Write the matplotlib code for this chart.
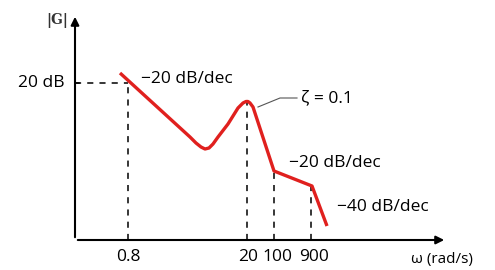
import matplotlib.pyplot as plt

# schematic Bode magnitude sketch (axis units are arbitrary, not log-scaled)
curve_x = [45, 115, 121, 126, 130, 134, 138, 143, 153, 163, 168, 171, 173, 175, 178, 199, 237, 252]
curve_y = [167, 103, 97, 93, 91, 92, 96, 103, 116, 132, 137, 138.5, 138.5, 137, 133, 69, 54, 14]

tick_pos = [53, 172, 199, 236]
tick_labels = ["0.8", "20", "100", "900"]
label_pos = [53, 173, 202, 239]
tick_top = [157, 138, 69, 54]   # where each dashed guide meets the curve

level_20db = 157

plt.rcParams['font.family'] = ['Open Sans', 'DejaVu Sans']

fig = plt.figure(figsize=(4.95, 2.7), dpi=100)
ax = fig.add_axes([75/495, 30/270, 370/495, 225/270])
ax.set_xlim(0, 370)
ax.set_ylim(0, 225)
ax.axis("off")

# axes with arrows
ax.annotate("", xy=(0, 226), xytext=(0, 0),
            arrowprops=dict(arrowstyle="-|>", color="black", lw=1.5, mutation_scale=12),
            annotation_clip=False)
ax.annotate("", xy=(372, 0), xytext=(0, 0),
            arrowprops=dict(arrowstyle="-|>", color="black", lw=1.5, mutation_scale=12),
            annotation_clip=False)

# dashed guides
dash = dict(color="black", lw=1.1, linestyle=(0, (4, 4)))
ax.plot([0, tick_pos[0]], [level_20db, level_20db], **dash)
ax.plot([-4, 4], [level_20db, level_20db], color="black", lw=1.1)
for p, t in zip(tick_pos, tick_top):
    ax.plot([p, p], [0, t], **dash)

# the curve
ax.plot(curve_x, curve_y, color="#e0201e", lw=2.4, solid_capstyle="butt",
        solid_joinstyle="round")

# tick labels
for p, lab in zip(label_pos, tick_labels):
    ax.text(p, -9, lab, ha="center", va="top", fontsize=12.5)

ax.text(-10, level_20db, "20 dB", ha="right", va="center", fontsize=12.5)
ax.text(-7, 220, "|G|", ha="right", va="center", fontsize=10,
        family="DejaVu Serif", fontweight="bold", color="#333333")
ax.text(398, -20, "ω (rad/s)", ha="right", va="center", fontsize=11)

ax.text(66, 161, "−20 dB/dec", ha="left", va="center", fontsize=12.5)
ax.text(214, 77, "−20 dB/dec", ha="left", va="center", fontsize=12.5)
ax.text(262, 33, "−40 dB/dec", ha="left", va="center", fontsize=12.5)

# zeta leader
ax.plot([183, 205, 222], [133, 142, 142], color="#555555", lw=0.8)
ax.text(226, 142, "ζ = 0.1", ha="left", va="center", fontsize=12.5)

fig.savefig("out.png", dpi=100)
